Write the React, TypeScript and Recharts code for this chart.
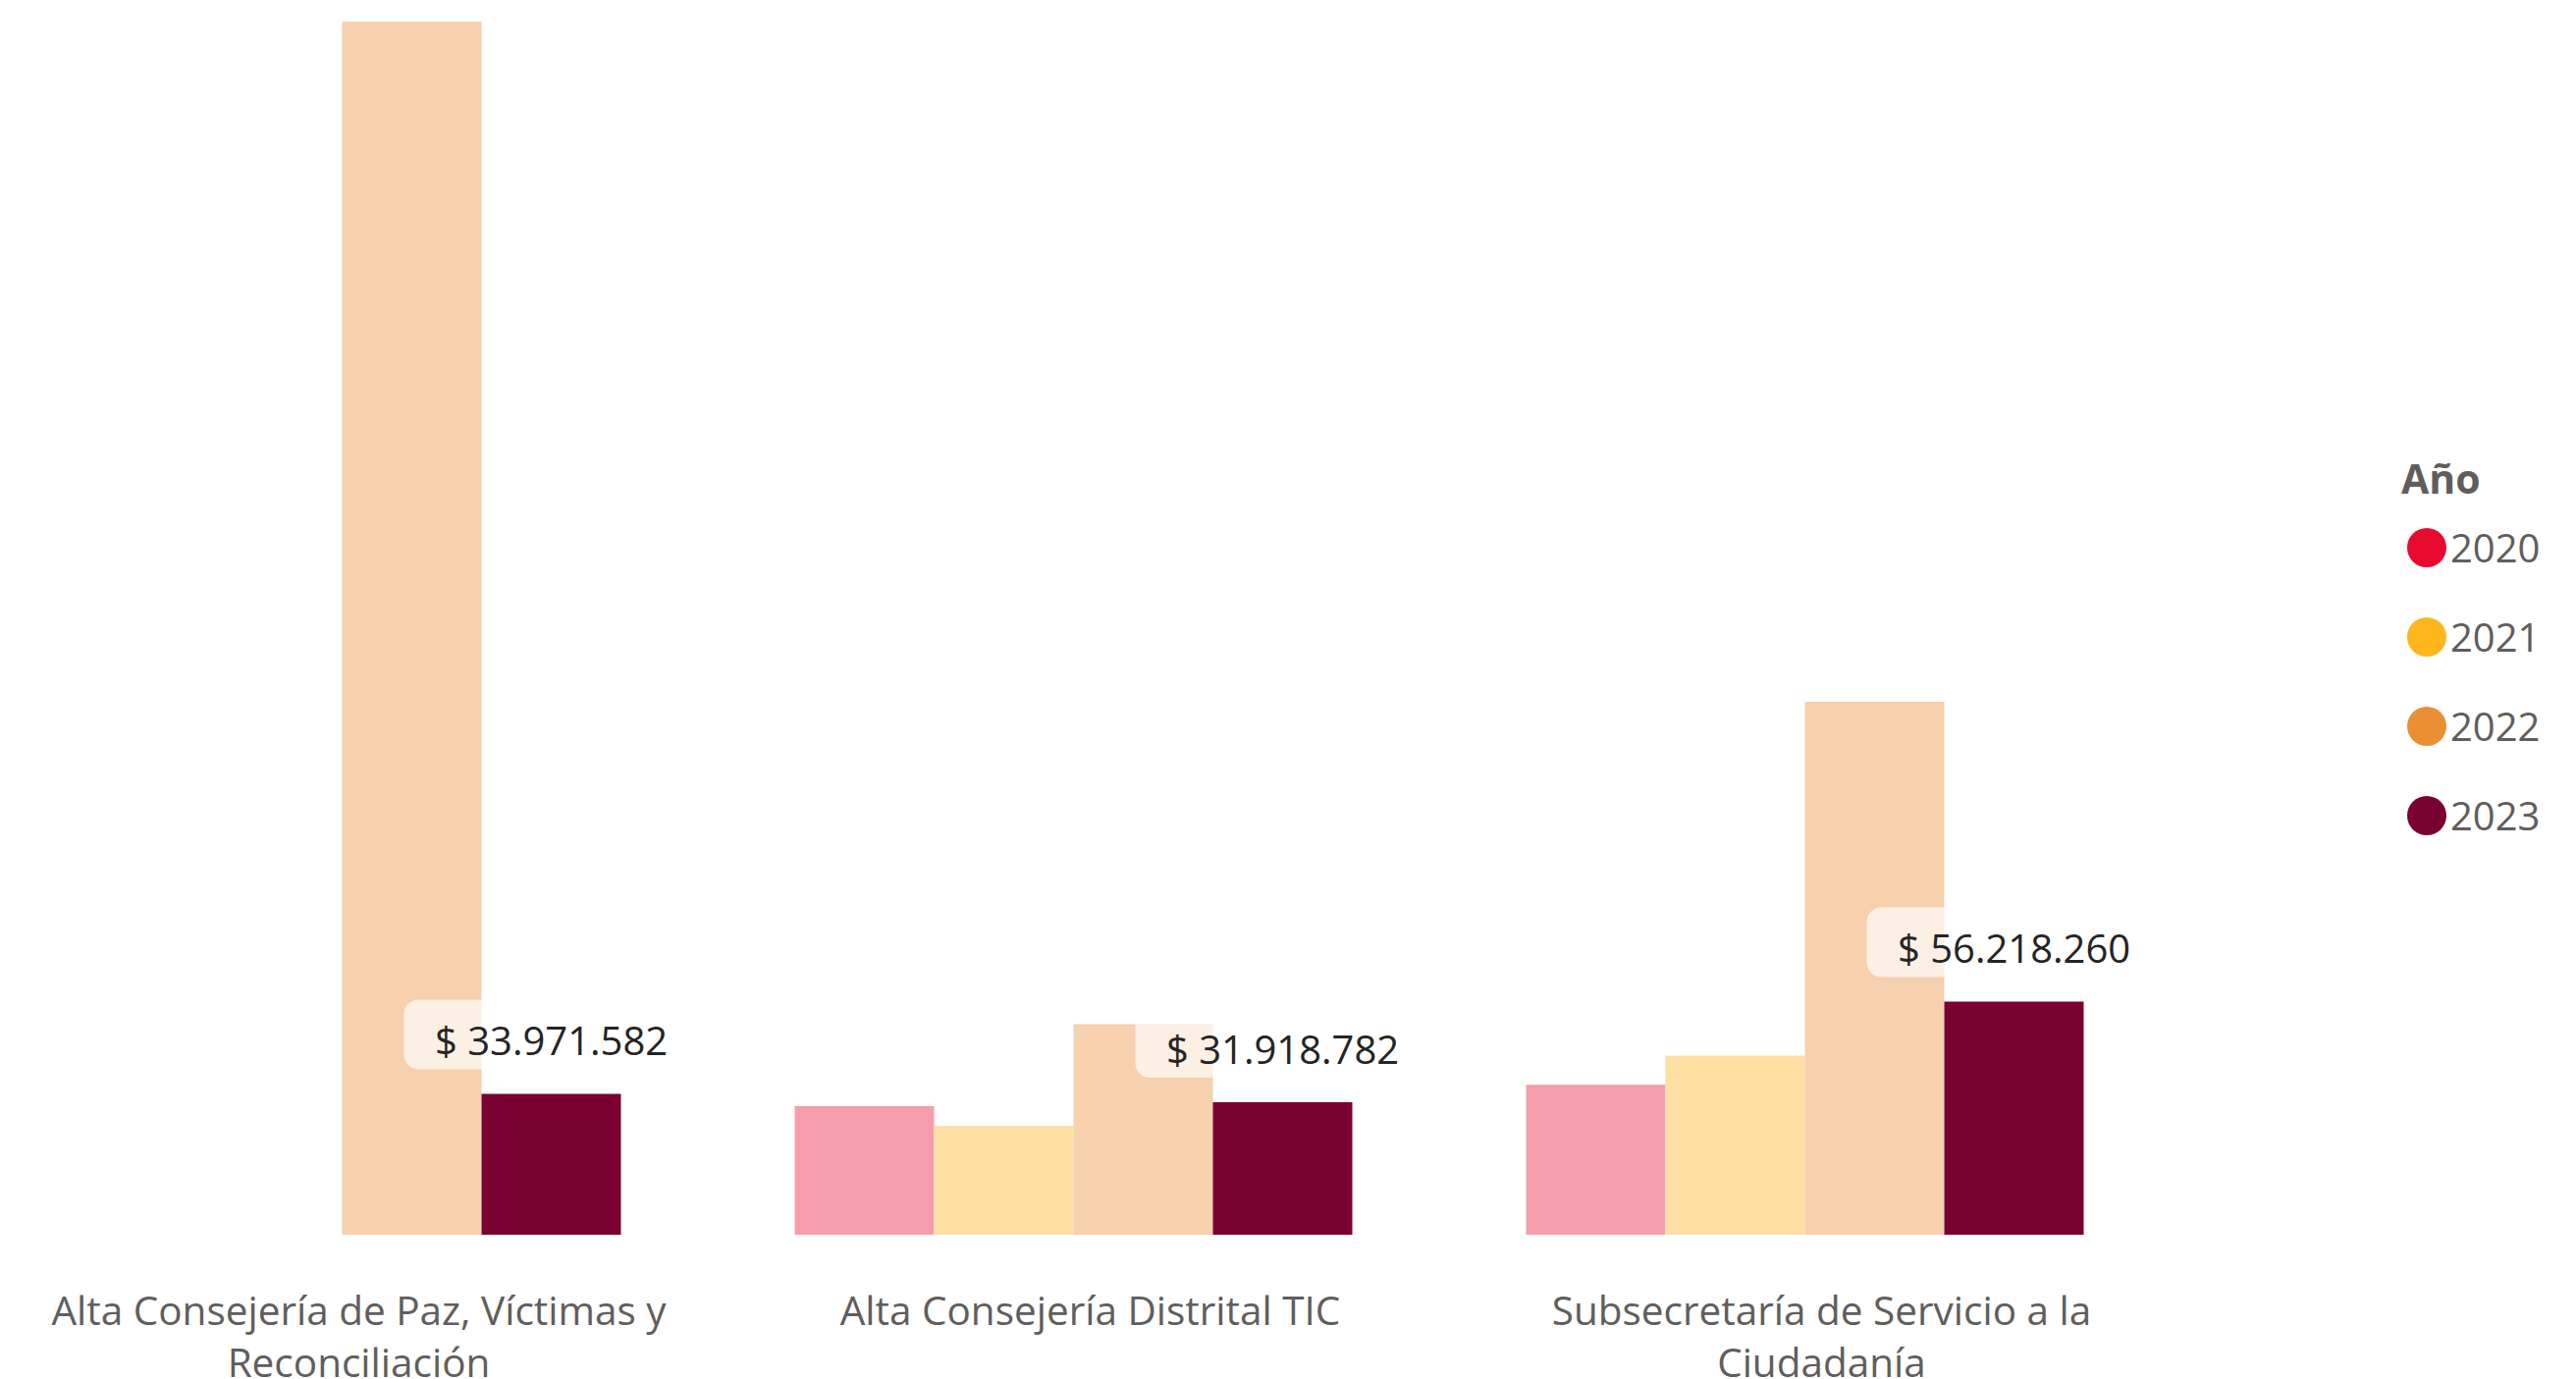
import { BarChart, Bar, XAxis, YAxis, Legend, LabelList } from "recharts"

const categories = [
  "Alta Consejería de Paz, Víctimas y Reconciliación",
  "Alta Consejería Distrital TIC",
  "Subsecretaría de Servicio a la Ciudadanía",
]

const years = ["2020", "2021", "2022", "2023"]

const v2020 = [null, 30980000, 36150000]
const v2021 = [null, 26270000, 43200000]
const v2022 = [292500000, 50740000, 128500000]
const v2023 = [33971582, 31918782, 56218260]

const legendColors = ["#E8092E", "#FDB71D", "#EB8F35", "#7B0032"]
const barColors = ["#F59DAB", "#FDDFA3", "#F7D0AE", "#7B0032"]

const data = categories.map((name, i) => ({
  name,
  y2020: v2020[i],
  y2021: v2021[i],
  y2022: v2022[i],
  y2023: v2023[i],
}))

const FONT = "'Segoe UI', 'Open Sans', sans-serif"

const fmt = (v: number) => "$ " + Math.round(v).toLocaleString("de-DE")

function wrap(text: string, max: number) {
  const lines: string[] = []
  let cur = ""
  text.split(" ").forEach((w) => {
    const next = cur ? cur + " " + w : w
    if (next.length > max && cur) {
      lines.push(cur)
      cur = w
    } else {
      cur = next
    }
  })
  if (cur) lines.push(cur)
  return lines
}

const CategoryTick = (props: any) => {
  const { x, y, payload } = props
  const lines = wrap(payload.value, 34)
  return (
    <g transform={`translate(${x + 17},${y})`}>
      {lines.map((l, i) => (
        <text
          key={i}
          x={0}
          y={84 + i * 53}
          textAnchor="middle"
          fill="#605E5C"
          fontSize={40.5}
          fontFamily={FONT}
        >
          {l}
        </text>
      ))}
    </g>
  )
}

const ValueLabel = (props: any) => {
  const { x, y, width, value } = props
  if (value == null) return null
  const cx = x + width / 2
  const boxW = 300
  const boxH = 71
  const boxY = y - 25 - boxH
  return (
    <g>
      <rect
        x={cx - boxW / 2}
        y={boxY}
        width={boxW}
        height={boxH}
        rx={15}
        fill="#ffffff"
        fillOpacity={0.65}
      />
      <text
        x={cx}
        y={boxY + boxH / 2 + 7}
        dy="0.35em"
        textAnchor="middle"
        fill="#252423"
        fontSize={40}
        fontFamily={FONT}
      >
        {fmt(value)}
      </text>
    </g>
  )
}

const LegendContent = () => (
  <div style={{ fontFamily: FONT, color: "#605E5C" }}>
    <div style={{ fontSize: 41, fontWeight: 700, lineHeight: "50px", marginBottom: 0 }}>Año</div>
    {years.map((yr, i) => (
      <div
        key={yr}
        style={{ display: "flex", alignItems: "center", height: 91, marginLeft: 6 }}
      >
        <span
          style={{
            width: 40,
            height: 40,
            borderRadius: 20,
            background: legendColors[i],
            display: "inline-block",
            marginRight: 4,
          }}
        />
        <span style={{ fontSize: 40 }}>{yr}</span>
      </div>
    ))}
  </div>
)

export default function App() {
  return (
    <div style={{ position: "absolute", left: -24, top: 0, width: 2648, height: 1405 }}>
      <BarChart
        width={2648}
        height={1405}
        data={data}
        margin={{ top: 22, right: 413, bottom: 0, left: 0 }}
        barCategoryGap={88.5}
        barGap={0}
      >
        <XAxis
          dataKey="name"
          axisLine={false}
          tickLine={false}
          height={147}
          interval={0}
          tick={<CategoryTick />}
        />
        <YAxis hide domain={[0, 292500000]} />
        <Legend
          layout="horizontal"
          align="center"
          verticalAlign="middle"
          wrapperStyle={{ left: 2470, top: 462, width: 170 }}
          content={<LegendContent />}
        />
        <Bar dataKey="y2020" name="2020" fill={barColors[0]} isAnimationActive={false} />
        <Bar dataKey="y2021" name="2021" fill={barColors[1]} isAnimationActive={false} />
        <Bar dataKey="y2022" name="2022" fill={barColors[2]} isAnimationActive={false} />
        <Bar dataKey="y2023" name="2023" fill={barColors[3]} isAnimationActive={false}>
          <LabelList dataKey="y2023" content={<ValueLabel />} />
        </Bar>
      </BarChart>
    </div>
  )
}
